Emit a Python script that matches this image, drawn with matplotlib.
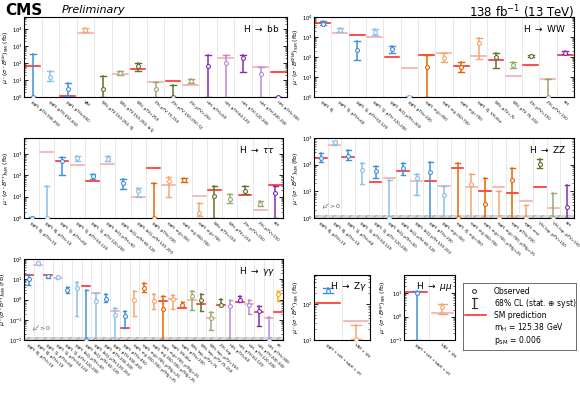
"""
STXS summary: mu * (sigma * B)_SM per decay channel and production bin.
"""

import numpy as np
import matplotlib
matplotlib.use('Agg')
import matplotlib.pyplot as plt

nan = np.nan

# ---------------- data (fb) ----------------
labels_bb = ['ggH, pTH 300-450', 'ggH, pTH 450-650', 'ggH, pTH>650', 'VBF',
             'WH, pTV 150-250, 0J', 'WH, pTV 150-250, ≥1J', 'WH, pTV>250',
             'ZH, pTV 75-150', 'ZH, pTV 150-250, 0J', 'ZH, pTV>250',
             'ttH, pTH<60', 'ttH, pTH 60-120', 'ttH, pTH 120-200',
             'ttH, pTH 200-300', 'ttH, pTH>300']
modes_bb = ['ggH'] * 3 + ['qqH'] + ['VH'] * 6 + ['ttH'] * 5
obs_bb = [0.5, 15, 3, 9100, 3, 26, 70, 3, 0.5, 9.1, 70, 100, 195, 23, 0.5]
lo_bb = [0.1, 8.4, 1.1, 7300, 0.1, 19, 37, 0.1, 0.1, 6.6, 0.1, 0.1, 32, 0.1, 0.1]
hi_bb = [340, 35, 6.6, 13000, 16.5, 35, 100, 7.6, 5.3, 11.4, 310, 310, 310, 63, 0.5]
sm_bb = [70, nan, 1.15, 5800, nan, 22, 45, 7.6, 9, 5.3, nan, 195, nan, 56, 32]

labels_ww = ['ggH, 0J', 'ggH, 1J, pTH<60', 'ggH, 1J, pTH 60-120', 'ggH, 1J, pTH 120-200',
             'ggH, ≥2J, pTH<200', 'ggH, pTH>200', 'qqH, mjj<350', 'qqH, mjj 350-700',
             'qqH, mjj>700', 'qqH, 2J, VH-like', 'WH, pTV<75', 'WH, pTV 75-150',
             'ZH, pTV<150', 'ZH, pTV>150', 'ttH']
modes_ww = ['ggH'] * 6 + ['qqH'] * 4 + ['VH'] * 4 + ['ttH']
obs_ww = [4700, 2200, 220, 1800, 240, 0.5, 33, 93, 33, 480, 96, 40, 112, 0.5, 163]
lo_ww = [3900, 1800, 71, 1230, 163, 0.1, 0.1, 55, 17, 76, 27, 27, 100, 0.1, 140]
hi_ww = [6300, 2950, 650, 2600, 350, 1.1, 125, 150, 59, 850, 163, 59, 125, 8.1, 205]
sm_ww = [5000, 1500, 1230, 1000, 96, 27, 125, 150, 36, 112, 71, 11.4, 40, 8.1, 125]

labels_tt = ['ggH, 0J, pTH<10', 'ggH, 0J, pTH>10', 'ggH, 1J, pTH<60', 'ggH, 1J, pTH 60-120',
             'ggH, 1J, pTH 120-200', 'ggH, ≥2J, pTH<60', 'ggH, ≥2J, pTH 60-120',
             'ggH, ≥2J, pTH 120-200', 'ggH, pTH>200', 'qqH, mjj<350',
             'qqH, mjj 350-700', 'qqH, mjj>700', 'WH, pTV<150', 'WH, pTV>150',
             'ZH, pTV<150', 'ZH, pTV>150', 'ttH']
modes_tt = ['ggH'] * 8 + ['qqH'] * 4 + ['VH'] * 4 + ['ttH']
obs_tt = [0.5, 0.5, 450, 650, 90, 600, 44, 18, 0.5, 52, 60, 1.7, 10.4, 8, 19, 4.7, 15]
lo_tt = [0.1, 0.1, 100, 490, 70, 490, 24, 9.3, 0.1, 9.3, 49, 1.2, 0.1, 5, 13.4, 3.5, 0.1]
hi_tt = [1.1, 30, 700, 780, 115, 780, 67, 26, 44, 81, 75, 5, 33, 13.4, 33, 6.5, 30]
sm_tt = [nan, 1240, 490, 315, 56, 350, nan, 9.3, 220, 37, nan, 10.4, 21, nan, 12.4, 2.5, 37]

labels_zz = ['ggH, 0J, pTH<10', 'ggH, 0J, pTH>10', 'ggH, 1J, pTH<60', 'ggH, 1J, pTH 60-120',
             'ggH, 1J, pTH 120-200', 'ggH, ≥2J, pTH<60', 'ggH, ≥2J, pTH 60-120',
             'ggH, ≥2J, pTH 120-200', 'ggH, pTH>200', 'ggH, mjj>350',
             'qqH, 2J, mjj<350', 'qqH, mjj 350-700', 'qqH, mjj>700, pTHjj<25',
             'qqH, mjj>700, pTHjj>25', 'qqH, pTH>200', 'qqH, rest', 'VH, lep, pTV<150',
             'VH, lep, pTV>150', 'ttH']
modes_zz = ['ggH'] * 10 + ['qqH'] * 6 + ['VH'] * 2 + ['ttH']
obs_zz = [178, 710, 205, 65, 60, 0.5, 75, 32, 53, 7, 0.5, 19, 3.4, 0.5, 27, 0.5, 106, 0.5, 2.5]
lo_zz = [123, 560, 155, 19, 33, 0.1, 40, 7.5, 0.1, 0.1, 0.1, 0.1, 0.1, 0.1, 0.1, 0.1, 75, 0.1, 0.1]
hi_zz = [275, 795, 345, 115, 87, 27, 115, 46, 123, 15.4, 115, 45, 32, 10, 75, 3.2, 167, 8.7, 17]
sm_zz = [178, 530, 195, nan, 22, 32, 56, 25, 25, 16, 75, 14, 10.5, 14.5, 8.7, 4.2, 14, 2.4, nan]

labels_gg = ['ggH, 0J, pTH<10', 'ggH, 0J, pTH>10', 'ggH, 1J, pTH<60', 'ggH, 1J, pTH 60-120',
             'ggH, 1J, pTH 120-200', 'ggH, ≥2J, pTH<60', 'ggH, ≥2J, pTH 60-120',
             'ggH, ≥2J, pTH 120-200', 'ggH, pTH 200-300', 'ggH, pTH 300-450',
             'ggH, pTH>450', 'qqH, mjj 350-700, pTHjj<25', 'qqH, mjj>700, pTHjj<25',
             'qqH, mjj 350-700, pTHjj>25', 'qqH, mjj>700, pTHjj>25', 'qqH, VH-like',
             'qqH, pTH>200', 'WH, lep, pTV<75', 'WH, lep, pTV 75-150', 'WH, lep, pTV>150',
             'ZH, lep', 'ttH, pTH<60', 'ttH, pTH 60-120', 'ttH, pTH 120-200',
             'ttH, pTH 200-300', 'ttH, pTH>300', 'tH']
modes_gg = ['ggH'] * 11 + ['qqH'] * 6 + ['VH'] * 4 + ['ttH'] * 5 + ['tH']
obs_gg = [10.6, 61, 14.4, 12.3, 2.9, 3.8, 0.005, 0.83, 1.07, 0.18, 0.15, 1.0, 3.8, 0.83,
          0.35, 1.1, 0.56, 1.46, 1.0, 0.12, 0.56, 0.47, 1.0, 0.56, 0.28, 0.005, 1.77]
lo_gg = [5.5, 49, 12, 10.5, 2.0, 0.15, 0.001, 0.001, 0.74, 0.001, 0.04, 0.16, 2.3, 0.35,
         0.001, 0.35, 0.43, 0.32, 0.26, 0.032, 0.47, 0.001, 0.74, 0.2, 0.05, 0.001, 0.83]
hi_gg = [15.5, 71, 17, 14.5, 4.2, 7.2, 3.1, 2.1, 1.77, 0.39, 0.26, 2.6, 6.7, 1.77,
         1.46, 1.6, 0.74, 2.6, 1.77, 0.23, 1.07, 1.0, 1.46, 0.93, 0.5, 0.13, 2.6]
sm_gg = [15.5, 49, 17, 11.7, nan, nan, 4.9, 2.1, nan, 0.28, 0.04, nan, nan, nan,
         0.83, 1.07, 0.39, 1.0, 0.63, 0.12, 0.56, nan, 0.74, 0.63, 0.25, 0.12, 0.23]

labels_zg = ['ggH + ttH + bbH + tH', 'VBF + VH']
modes_zg = ['ggH', 'qqH']
obs_zg = [230, 5]
lo_zg = [200, 1]
hi_zg = [275, 26]
sm_zg = [105, 34]

labels_mm = ['ggH + ttH + bbH + tH', 'VBF + VH']
modes_mm = ['ggH', 'qqH']
obs_mm = [10.7, 2.5]
lo_mm = [0.01, 1.3]
hi_mm = [13, 3.4]
sm_mm = [11.8, 1.4]

# ---------------- style ----------------
colors = {
    'ggH': ('#3f90da', '#8cbfe9'),
    'qqH': ('#e76300', '#f3a66e'),
    'VH': ('#5e7330', '#98aa6c'),
    'ttH': ('#832db6', '#b98ad6'),
    'tH': ('#ffa90e', '#ffa90e'),
}
sm_colors = ('#ff1a1a', '#f5a5a5')

plt.rcParams['font.family'] = 'DejaVu Sans'
plt.rcParams['axes.linewidth'] = 0.8


def draw_panel(ax, labels, modes, obs, lo, hi, sm, ylim, title, chan,
               positive_band=False, title_x=0.97):
    n = len(labels)
    x = np.arange(n)
    ymin = ylim[0] * 1.04
    for i in range(n):
        shade = i % 2
        c = colors[modes[i]][shade]
        yl = max(lo[i], ymin)
        yh = max(hi[i], ymin)
        ax.plot([x[i], x[i]], [yl, yh], color=c, lw=1.1, zorder=3)
        for yc in (yl, yh):
            ax.plot([x[i] - 0.17, x[i] + 0.17], [yc, yc], color=c, lw=1.0, zorder=3)
        if not np.isnan(sm[i]):
            ax.plot([x[i] - 0.42, x[i] + 0.42], [sm[i], sm[i]],
                    color=sm_colors[shade], lw=1.1, zorder=2)
        ax.plot(x[i], max(obs[i], ymin), 'o', ms=2.8, mfc='white', mec=c,
                mew=0.8, zorder=4)
    for b in np.arange(n - 1) + 0.5:
        ax.axvline(b, color='#e4e4e4', lw=0.6, zorder=0)
    ax.set_yscale('log')
    ax.set_ylim(*ylim)
    ax.set_xlim(-0.5, n - 0.5)
    ax.set_xticks(x)
    ax.set_xticklabels(labels, rotation=-42, ha='left', va='top',
                       rotation_mode='anchor', fontsize=2.9)
    ax.tick_params(axis='x', length=0, pad=2)
    ax.tick_params(axis='y', which='both', direction='in', right=True,
                   labelsize=3.8, pad=1)
    ax.tick_params(axis='y', which='major', length=3, width=0.6)
    ax.tick_params(axis='y', which='minor', length=1.5, width=0.4)
    ax.set_ylabel(r'$\mu\cdot(\sigma\cdot B^{%s})_{\rm SM}$ (fb)' % chan,
                  fontsize=4.5, labelpad=0.5)
    ax.text(title_x, 0.93, title, transform=ax.transAxes, ha='right', va='top',
            fontsize=6.5)
    if positive_band:
        ax.axhspan(ylim[0], ylim[0] * (ylim[1] / ylim[0]) ** 0.035,
                   facecolor='#d8d8d8', edgecolor='#b0b0b0', hatch='////',
                   lw=0, zorder=1)
        ax.text(0.03, 0.08, r'$\mu^{f} > 0$', transform=ax.transAxes,
                fontsize=4.5, color='#555555', va='bottom')


fig = plt.figure(figsize=(5.8, 3.95), dpi=100)

W, H = 580.0, 395.0


def add_axes(x0, x1, y0, y1):
    return fig.add_axes([x0 / W, 1 - y1 / H, (x1 - x0) / W, (y1 - y0) / H])


ax_bb = add_axes(24, 287, 17, 97)
ax_ww = add_axes(314, 574, 17, 97)
ax_tt = add_axes(24, 283, 138, 218)
ax_zz = add_axes(314, 574, 138, 218)
ax_gg = add_axes(24, 283, 259, 340)
ax_zg = add_axes(314, 370, 275, 340)
ax_mm = add_axes(404, 455, 275, 340)

draw_panel(ax_bb, labels_bb, modes_bb, obs_bb, lo_bb, hi_bb, sm_bb,
           (1, 5.5e4), r'H $\rightarrow$ bb', 'bb')
draw_panel(ax_ww, labels_ww, modes_ww, obs_ww, lo_ww, hi_ww, sm_ww,
           (1, 1e4), r'H $\rightarrow$ WW', 'WW')
draw_panel(ax_tt, labels_tt, modes_tt, obs_tt, lo_tt, hi_tt, sm_tt,
           (1, 5.6e3), r'H $\rightarrow$ $\tau\tau$', r'\tau\tau')
draw_panel(ax_zz, labels_zz, modes_zz, obs_zz, lo_zz, hi_zz, sm_zz,
           (1, 1e3), r'H $\rightarrow$ ZZ', 'ZZ', positive_band=True)
draw_panel(ax_gg, labels_gg, modes_gg, obs_gg, lo_gg, hi_gg, sm_gg,
           (1e-2, 1e2), r'H $\rightarrow$ $\gamma\gamma$', r'\gamma\gamma',
           positive_band=True)
draw_panel(ax_zg, labels_zg, modes_zg, obs_zg, lo_zg, hi_zg, sm_zg,
           (10, 630), r'H $\rightarrow$ Z$\gamma$', r'Z\gamma', title_x=0.95)
draw_panel(ax_mm, labels_mm, modes_mm, obs_mm, lo_mm, hi_mm, sm_mm,
           (0.1, 60), r'H $\rightarrow$ $\mu\mu$', r'\mu\mu', title_x=0.95)

# header
fig.text(5 / W, 1 - 3 / H, 'CMS', fontsize=11, fontweight='bold', va='top')
fig.text(62 / W, 1 - 5 / H, 'Preliminary', fontsize=8, style='italic', va='top')
fig.text(574 / W, 1 - 3 / H, r'138 fb$^{-1}$ (13 TeV)', fontsize=8.5,
         ha='right', va='top')

# legend box
lg = add_axes(463, 576, 283, 350)
lg.set_xlim(0, 1)
lg.set_ylim(0, 1)
lg.set_xticks([])
lg.set_yticks([])
for s in lg.spines.values():
    s.set_linewidth(0.6)
    s.set_color('#555555')
rows = [0.88, 0.70, 0.52, 0.33, 0.14]
lg.plot(0.1, rows[0], 'o', ms=2.8, mfc='white', mec='#444444', mew=0.8)
lg.plot([0.1, 0.1], [rows[1] - 0.07, rows[1] + 0.07], color='#333333', lw=1.0)
for yc in (rows[1] - 0.07, rows[1] + 0.07):
    lg.plot([0.08, 0.12], [yc, yc], color='#333333', lw=0.8)
lg.plot([0.02, 0.2], [rows[2], rows[2]], color='#ff1a1a', lw=1.1)
texts = ['Observed', r'68% CL (stat. $\oplus$ syst)', 'SM prediction',
         r'm$_{\rm H}$ = 125.38 GeV', r'p$_{\rm SM}$ = 0.006']
for yt, t in zip(rows, texts):
    lg.text(0.27, yt, t, fontsize=5.5, va='center')

fig.savefig('out.png', dpi=100)
